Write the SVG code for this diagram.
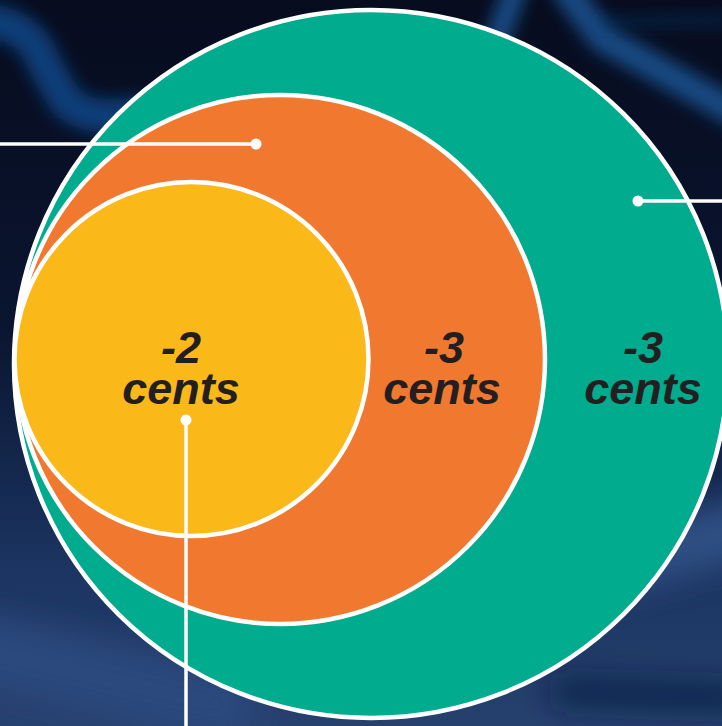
<svg xmlns="http://www.w3.org/2000/svg" width="722" height="726" viewBox="0 0 722 726">
  <defs>
    <linearGradient id="bg" x1="0" y1="0" x2="0" y2="1">
      <stop offset="0" stop-color="#070c1e"/>
      <stop offset="0.45" stop-color="#0a1530"/>
      <stop offset="0.78" stop-color="#1b3461"/>
      <stop offset="1" stop-color="#27416f"/>
    </linearGradient>
    <filter id="blur" filterUnits="userSpaceOnUse" x="-50" y="-50" width="822" height="826">
      <feGaussianBlur stdDeviation="8"/>
    </filter>
    <filter id="blur2" filterUnits="userSpaceOnUse" x="-50" y="-50" width="822" height="826">
      <feGaussianBlur stdDeviation="16"/>
    </filter>
    <style>
      .ring { stroke: #ffffff; stroke-width: 4.5; }
      .lbl { font-family: "Liberation Sans", Arial, Helvetica, sans-serif; font-weight: bold; font-style: italic; font-size: 45px; fill: #231f20; text-anchor: middle; }
      .conn { stroke: #ffffff; stroke-width: 3.5; fill: none; }
      .dot { fill: #ffffff; }
    </style>
  </defs>

  <!-- background -->
  <rect x="0" y="0" width="722" height="726" fill="url(#bg)"/>
  <g fill="none" stroke-linecap="round" stroke-linejoin="round">
    <path d="M -20 20 Q 30 22 45 65 L 65 100 Q 82 118 118 116 L 150 114" stroke="#0e3d78" stroke-width="34" filter="url(#blur)"/>
    <path d="M 495 45 L 515 -10" stroke="#184a82" stroke-width="24" filter="url(#blur)"/>
    <path d="M 566 -10 L 602 38 L 740 115" stroke="#184a82" stroke-width="28" filter="url(#blur)"/>
    <path d="M 600 22 L 730 20" stroke="#123a6e" stroke-width="5" filter="url(#blur)"/>
    <path d="M -20 650 L 220 705" stroke="#2a4a7d" stroke-width="70" filter="url(#blur2)"/>
    <path d="M 560 692 L 740 698" stroke="#0b1a3e" stroke-width="20" filter="url(#blur2)"/>
    <path d="M 590 570 L 740 530" stroke="#2e5083" stroke-width="60" filter="url(#blur2)"/>
  </g>

  <g id="node-teal">
    <ellipse cx="371" cy="364" rx="357" ry="354" fill="#00ab8e" class="ring"/>
    <text class="lbl"><tspan x="643" y="363">-3</tspan><tspan x="643" y="404">cents</tspan></text>
  </g>

  <g id="node-orange">
    <circle cx="280.5" cy="359.5" r="264.5" fill="#f1782f" class="ring"/>
    <text class="lbl"><tspan x="444" y="363">-3</tspan><tspan x="442" y="404">cents</tspan></text>
  </g>

  <g id="node-yellow">
    <circle cx="191.5" cy="359" r="177" fill="#fbb819" class="ring"/>
    <text class="lbl"><tspan x="181" y="363">-2</tspan><tspan x="181" y="404">cents</tspan></text>
  </g>

  <g id="connectors">
    <line class="conn" x1="0" y1="144" x2="256" y2="144"/>
    <circle class="dot" cx="256" cy="144" r="5.5"/>
    <line class="conn" x1="638" y1="201" x2="722" y2="201"/>
    <circle class="dot" cx="638" cy="201" r="5.5"/>
    <line class="conn" x1="186" y1="420" x2="186" y2="726"/>
    <circle class="dot" cx="186" cy="420" r="5.5"/>
  </g>
</svg>
